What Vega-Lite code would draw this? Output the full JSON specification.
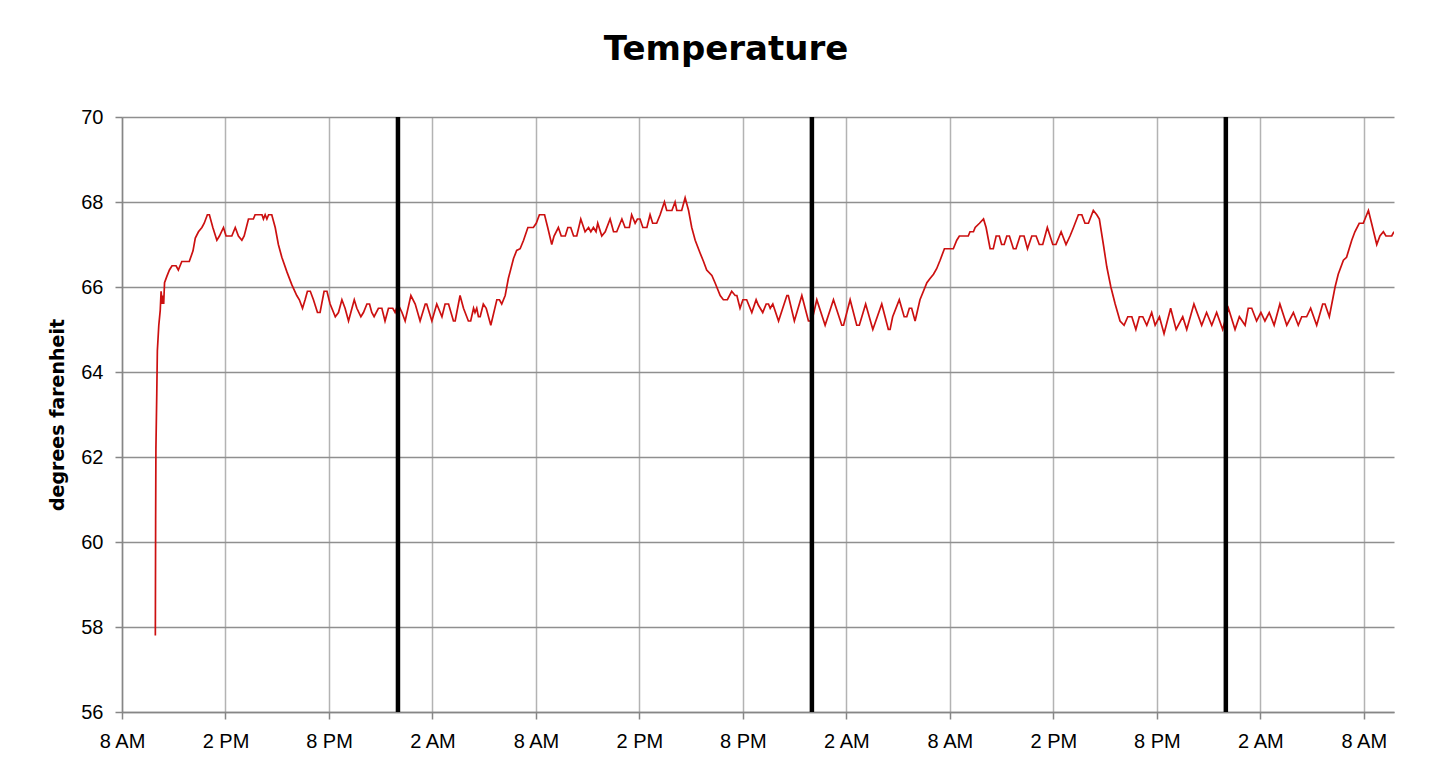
{
  "$schema": "https://vega.github.io/schema/vega-lite/v6.json",
  "width": 1272,
  "height": 595,
  "autosize": {"type": "none"},
  "padding": {"left": 122, "top": 117, "right": 56, "bottom": 55},
  "background": "white",
  "title": {
    "text": "Temperature",
    "font": "DejaVu Sans",
    "fontSize": 34,
    "fontWeight": "bold",
    "color": "#000000",
    "frame": "group",
    "anchor": "middle",
    "baseline": "alphabetic",
    "offset": 13,
    "dx": -32
  },
  "config": {
    "view": {"stroke": null},
    "axis": {
      "labelFont": "Liberation Sans",
      "labelFontSize": 20,
      "labelColor": "#000000",
      "titleFont": "DejaVu Sans",
      "titleFontSize": 19,
      "titleFontWeight": "bold",
      "titleColor": "#000000",
      "domainColor": "#868686",
      "domainWidth": 1.5,
      "tickColor": "#868686",
      "tickWidth": 1.5,
      "tickSize": 7
    }
  },
  "datasets": {
    "temps": [
      {"t":"2012-01-10T09:56","v":57.8},{"t":"2012-01-10T09:57","v":60.5},{"t":"2012-01-10T09:58","v":62.2},{"t":"2012-01-10T10:01","v":63.5},{"t":"2012-01-10T10:03","v":64.5},{"t":"2012-01-10T10:08","v":65.1},{"t":"2012-01-10T10:13","v":65.45},{"t":"2012-01-10T10:16","v":65.9},{"t":"2012-01-10T10:20","v":65.6},{"t":"2012-01-10T10:23","v":65.8},{"t":"2012-01-10T10:25","v":65.6},{"t":"2012-01-10T10:28","v":66.1},{"t":"2012-01-10T10:36","v":66.25},{"t":"2012-01-10T10:45","v":66.4},{"t":"2012-01-10T10:54","v":66.5},{"t":"2012-01-10T11:08","v":66.5},{"t":"2012-01-10T11:16","v":66.4},{"t":"2012-01-10T11:28","v":66.6},{"t":"2012-01-10T11:54","v":66.6},{"t":"2012-01-10T12:07","v":66.85},{"t":"2012-01-10T12:15","v":67.15},{"t":"2012-01-10T12:26","v":67.3},{"t":"2012-01-10T12:38","v":67.4},{"t":"2012-01-10T12:46","v":67.5},{"t":"2012-01-10T12:57","v":67.7},{"t":"2012-01-10T13:04","v":67.7},{"t":"2012-01-10T13:16","v":67.4},{"t":"2012-01-10T13:30","v":67.1},{"t":"2012-01-10T13:39","v":67.2},{"t":"2012-01-10T13:53","v":67.4},{"t":"2012-01-10T14:02","v":67.2},{"t":"2012-01-10T14:22","v":67.2},{"t":"2012-01-10T14:34","v":67.4},{"t":"2012-01-10T14:45","v":67.2},{"t":"2012-01-10T14:57","v":67.1},{"t":"2012-01-10T15:05","v":67.2},{"t":"2012-01-10T15:20","v":67.6},{"t":"2012-01-10T15:37","v":67.6},{"t":"2012-01-10T15:43","v":67.7},{"t":"2012-01-10T16:07","v":67.7},{"t":"2012-01-10T16:12","v":67.6},{"t":"2012-01-10T16:18","v":67.7},{"t":"2012-01-10T16:24","v":67.6},{"t":"2012-01-10T16:30","v":67.7},{"t":"2012-01-10T16:41","v":67.7},{"t":"2012-01-10T16:53","v":67.4},{"t":"2012-01-10T17:04","v":67.0},{"t":"2012-01-10T17:16","v":66.7},{"t":"2012-01-10T17:34","v":66.35},{"t":"2012-01-10T17:51","v":66.05},{"t":"2012-01-10T18:08","v":65.8},{"t":"2012-01-10T18:17","v":65.7},{"t":"2012-01-10T18:28","v":65.5},{"t":"2012-01-10T18:37","v":65.7},{"t":"2012-01-10T18:45","v":65.9},{"t":"2012-01-10T18:55","v":65.9},{"t":"2012-01-10T19:06","v":65.7},{"t":"2012-01-10T19:20","v":65.4},{"t":"2012-01-10T19:29","v":65.4},{"t":"2012-01-10T19:43","v":65.9},{"t":"2012-01-10T19:53","v":65.9},{"t":"2012-01-10T20:04","v":65.6},{"t":"2012-01-10T20:22","v":65.3},{"t":"2012-01-10T20:33","v":65.4},{"t":"2012-01-10T20:45","v":65.7},{"t":"2012-01-10T20:56","v":65.5},{"t":"2012-01-10T21:08","v":65.2},{"t":"2012-01-10T21:16","v":65.4},{"t":"2012-01-10T21:28","v":65.7},{"t":"2012-01-10T21:37","v":65.5},{"t":"2012-01-10T21:51","v":65.3},{"t":"2012-01-10T22:00","v":65.4},{"t":"2012-01-10T22:12","v":65.6},{"t":"2012-01-10T22:21","v":65.6},{"t":"2012-01-10T22:29","v":65.4},{"t":"2012-01-10T22:37","v":65.3},{"t":"2012-01-10T22:52","v":65.5},{"t":"2012-01-10T23:04","v":65.5},{"t":"2012-01-10T23:15","v":65.2},{"t":"2012-01-10T23:27","v":65.5},{"t":"2012-01-10T23:42","v":65.5},{"t":"2012-01-10T23:50","v":65.4},
      {"t":"2012-01-11T00:00","v":65.6},{"t":"2012-01-11T00:14","v":65.4},{"t":"2012-01-11T00:25","v":65.2},{"t":"2012-01-11T00:45","v":65.8},{"t":"2012-01-11T01:00","v":65.6},{"t":"2012-01-11T01:17","v":65.2},{"t":"2012-01-11T01:35","v":65.6},{"t":"2012-01-11T01:40","v":65.6},{"t":"2012-01-11T01:58","v":65.2},{"t":"2012-01-11T02:15","v":65.6},{"t":"2012-01-11T02:33","v":65.3},{"t":"2012-01-11T02:44","v":65.6},{"t":"2012-01-11T02:56","v":65.6},{"t":"2012-01-11T03:13","v":65.2},{"t":"2012-01-11T03:19","v":65.2},{"t":"2012-01-11T03:36","v":65.8},{"t":"2012-01-11T03:48","v":65.5},{"t":"2012-01-11T04:05","v":65.2},{"t":"2012-01-11T04:13","v":65.2},{"t":"2012-01-11T04:23","v":65.5},{"t":"2012-01-11T04:28","v":65.4},{"t":"2012-01-11T04:34","v":65.5},{"t":"2012-01-11T04:40","v":65.3},{"t":"2012-01-11T04:46","v":65.3},{"t":"2012-01-11T04:57","v":65.6},{"t":"2012-01-11T05:07","v":65.5},{"t":"2012-01-11T05:23","v":65.1},{"t":"2012-01-11T05:44","v":65.7},{"t":"2012-01-11T05:53","v":65.7},{"t":"2012-01-11T06:01","v":65.6},{"t":"2012-01-11T06:13","v":65.8},{"t":"2012-01-11T06:24","v":66.2},{"t":"2012-01-11T06:42","v":66.67},{"t":"2012-01-11T06:53","v":66.86},{"t":"2012-01-11T07:05","v":66.9},{"t":"2012-01-11T07:17","v":67.1},{"t":"2012-01-11T07:32","v":67.4},{"t":"2012-01-11T07:51","v":67.4},{"t":"2012-01-11T08:01","v":67.5},{"t":"2012-01-11T08:12","v":67.7},{"t":"2012-01-11T08:30","v":67.7},{"t":"2012-01-11T08:41","v":67.4},{"t":"2012-01-11T08:55","v":67.0},{"t":"2012-01-11T09:03","v":67.2},{"t":"2012-01-11T09:18","v":67.4},{"t":"2012-01-11T09:28","v":67.2},{"t":"2012-01-11T09:42","v":67.2},{"t":"2012-01-11T09:51","v":67.4},{"t":"2012-01-11T10:01","v":67.4},{"t":"2012-01-11T10:11","v":67.2},{"t":"2012-01-11T10:22","v":67.2},{"t":"2012-01-11T10:36","v":67.6},{"t":"2012-01-11T10:51","v":67.3},{"t":"2012-01-11T11:03","v":67.4},{"t":"2012-01-11T11:11","v":67.3},{"t":"2012-01-11T11:20","v":67.4},{"t":"2012-01-11T11:29","v":67.3},{"t":"2012-01-11T11:35","v":67.5},{"t":"2012-01-11T11:49","v":67.2},{"t":"2012-01-11T12:01","v":67.3},{"t":"2012-01-11T12:18","v":67.6},{"t":"2012-01-11T12:30","v":67.3},{"t":"2012-01-11T12:41","v":67.3},{"t":"2012-01-11T12:59","v":67.6},{"t":"2012-01-11T13:10","v":67.4},{"t":"2012-01-11T13:25","v":67.4},{"t":"2012-01-11T13:33","v":67.7},{"t":"2012-01-11T13:45","v":67.5},{"t":"2012-01-11T13:53","v":67.6},{"t":"2012-01-11T14:02","v":67.6},{"t":"2012-01-11T14:12","v":67.4},{"t":"2012-01-11T14:26","v":67.4},{"t":"2012-01-11T14:37","v":67.7},{"t":"2012-01-11T14:46","v":67.5},{"t":"2012-01-11T15:00","v":67.5},{"t":"2012-01-11T15:12","v":67.7},{"t":"2012-01-11T15:27","v":68.0},{"t":"2012-01-11T15:35","v":67.8},{"t":"2012-01-11T15:53","v":67.8},{"t":"2012-01-11T16:04","v":68.0},{"t":"2012-01-11T16:10","v":67.8},{"t":"2012-01-11T16:27","v":67.8},{"t":"2012-01-11T16:39","v":68.1},{"t":"2012-01-11T16:51","v":67.8},{"t":"2012-01-11T17:02","v":67.4},{"t":"2012-01-11T17:14","v":67.1},{"t":"2012-01-11T17:31","v":66.8},{"t":"2012-01-11T17:43","v":66.6},{"t":"2012-01-11T17:54","v":66.4},{"t":"2012-01-11T18:12","v":66.27},{"t":"2012-01-11T18:23","v":66.1},{"t":"2012-01-11T18:41","v":65.8},{"t":"2012-01-11T18:52","v":65.7},{"t":"2012-01-11T19:06","v":65.7},{"t":"2012-01-11T19:21","v":65.9},{"t":"2012-01-11T19:33","v":65.8},{"t":"2012-01-11T19:39","v":65.8},{"t":"2012-01-11T19:50","v":65.5},{"t":"2012-01-11T20:00","v":65.7},{"t":"2012-01-11T20:13","v":65.7},{"t":"2012-01-11T20:31","v":65.4},{"t":"2012-01-11T20:46","v":65.7},{"t":"2012-01-11T20:54","v":65.57},{"t":"2012-01-11T21:09","v":65.4},{"t":"2012-01-11T21:21","v":65.6},{"t":"2012-01-11T21:29","v":65.6},{"t":"2012-01-11T21:35","v":65.5},{"t":"2012-01-11T21:44","v":65.6},{"t":"2012-01-11T21:49","v":65.5},{"t":"2012-01-11T22:04","v":65.2},{"t":"2012-01-11T22:33","v":65.8},{"t":"2012-01-11T22:38","v":65.8},{"t":"2012-01-11T22:59","v":65.2},{"t":"2012-01-11T23:25","v":65.8},{"t":"2012-01-11T23:48","v":65.2},
      {"t":"2012-01-12T00:00","v":65.2},{"t":"2012-01-12T00:17","v":65.7},{"t":"2012-01-12T00:46","v":65.1},{"t":"2012-01-12T01:15","v":65.7},{"t":"2012-01-12T01:44","v":65.1},{"t":"2012-01-12T01:50","v":65.1},{"t":"2012-01-12T02:13","v":65.7},{"t":"2012-01-12T02:36","v":65.1},{"t":"2012-01-12T02:45","v":65.1},{"t":"2012-01-12T03:07","v":65.6},{"t":"2012-01-12T03:32","v":65.0},{"t":"2012-01-12T04:03","v":65.6},{"t":"2012-01-12T04:26","v":65.0},{"t":"2012-01-12T04:32","v":65.0},{"t":"2012-01-12T04:41","v":65.3},{"t":"2012-01-12T05:04","v":65.7},{"t":"2012-01-12T05:21","v":65.3},{"t":"2012-01-12T05:30","v":65.3},{"t":"2012-01-12T05:39","v":65.5},{"t":"2012-01-12T05:47","v":65.5},{"t":"2012-01-12T05:59","v":65.2},{"t":"2012-01-12T06:16","v":65.7},{"t":"2012-01-12T06:40","v":66.1},{"t":"2012-01-12T06:51","v":66.2},{"t":"2012-01-12T07:03","v":66.3},{"t":"2012-01-12T07:14","v":66.43},{"t":"2012-01-12T07:26","v":66.63},{"t":"2012-01-12T07:41","v":66.9},{"t":"2012-01-12T08:12","v":66.9},{"t":"2012-01-12T08:24","v":67.1},{"t":"2012-01-12T08:33","v":67.2},{"t":"2012-01-12T09:04","v":67.2},{"t":"2012-01-12T09:10","v":67.3},{"t":"2012-01-12T09:22","v":67.3},{"t":"2012-01-12T09:28","v":67.4},{"t":"2012-01-12T09:43","v":67.5},{"t":"2012-01-12T09:57","v":67.6},{"t":"2012-01-12T10:06","v":67.4},{"t":"2012-01-12T10:20","v":66.9},{"t":"2012-01-12T10:31","v":66.9},{"t":"2012-01-12T10:41","v":67.2},{"t":"2012-01-12T10:52","v":67.2},{"t":"2012-01-12T11:00","v":67.0},{"t":"2012-01-12T11:09","v":67.0},{"t":"2012-01-12T11:18","v":67.2},{"t":"2012-01-12T11:27","v":67.2},{"t":"2012-01-12T11:41","v":66.9},{"t":"2012-01-12T11:50","v":66.9},{"t":"2012-01-12T12:04","v":67.2},{"t":"2012-01-12T12:18","v":67.2},{"t":"2012-01-12T12:30","v":66.9},{"t":"2012-01-12T12:45","v":67.2},{"t":"2012-01-12T13:00","v":67.2},{"t":"2012-01-12T13:11","v":67.0},{"t":"2012-01-12T13:23","v":67.0},{"t":"2012-01-12T13:39","v":67.4},{"t":"2012-01-12T13:58","v":67.0},{"t":"2012-01-12T14:09","v":67.0},{"t":"2012-01-12T14:27","v":67.3},{"t":"2012-01-12T14:44","v":67.0},{"t":"2012-01-12T14:58","v":67.2},{"t":"2012-01-12T15:10","v":67.4},{"t":"2012-01-12T15:27","v":67.7},{"t":"2012-01-12T15:39","v":67.7},{"t":"2012-01-12T15:50","v":67.5},{"t":"2012-01-12T16:02","v":67.5},{"t":"2012-01-12T16:19","v":67.8},{"t":"2012-01-12T16:31","v":67.7},{"t":"2012-01-12T16:40","v":67.6},{"t":"2012-01-12T16:54","v":67.0},{"t":"2012-01-12T17:06","v":66.47},{"t":"2012-01-12T17:20","v":66.0},{"t":"2012-01-12T17:35","v":65.6},{"t":"2012-01-12T17:52","v":65.2},{"t":"2012-01-12T18:06","v":65.1},{"t":"2012-01-12T18:19","v":65.3},{"t":"2012-01-12T18:33","v":65.3},{"t":"2012-01-12T18:47","v":65.0},{"t":"2012-01-12T18:59","v":65.3},{"t":"2012-01-12T19:11","v":65.3},{"t":"2012-01-12T19:25","v":65.1},{"t":"2012-01-12T19:42","v":65.4},{"t":"2012-01-12T19:54","v":65.1},{"t":"2012-01-12T20:09","v":65.3},{"t":"2012-01-12T20:25","v":64.9},{"t":"2012-01-12T20:48","v":65.5},{"t":"2012-01-12T21:07","v":65.0},{"t":"2012-01-12T21:30","v":65.3},{"t":"2012-01-12T21:44","v":65.0},{"t":"2012-01-12T22:09","v":65.6},{"t":"2012-01-12T22:36","v":65.1},{"t":"2012-01-12T22:53","v":65.4},{"t":"2012-01-12T23:11","v":65.1},{"t":"2012-01-12T23:28","v":65.4},{"t":"2012-01-12T23:49","v":65.0},
      {"t":"2012-01-13T00:09","v":65.5},{"t":"2012-01-13T00:32","v":65.0},{"t":"2012-01-13T00:47","v":65.3},{"t":"2012-01-13T01:07","v":65.1},{"t":"2012-01-13T01:18","v":65.5},{"t":"2012-01-13T01:30","v":65.5},{"t":"2012-01-13T01:47","v":65.2},{"t":"2012-01-13T02:02","v":65.4},{"t":"2012-01-13T02:16","v":65.2},{"t":"2012-01-13T02:31","v":65.4},{"t":"2012-01-13T02:48","v":65.1},{"t":"2012-01-13T03:08","v":65.6},{"t":"2012-01-13T03:32","v":65.1},{"t":"2012-01-13T03:55","v":65.4},{"t":"2012-01-13T04:12","v":65.1},{"t":"2012-01-13T04:24","v":65.3},{"t":"2012-01-13T04:41","v":65.3},{"t":"2012-01-13T04:55","v":65.5},{"t":"2012-01-13T05:16","v":65.1},{"t":"2012-01-13T05:37","v":65.6},{"t":"2012-01-13T05:45","v":65.6},{"t":"2012-01-13T06:00","v":65.3},{"t":"2012-01-13T06:20","v":66.0},{"t":"2012-01-13T06:31","v":66.3},{"t":"2012-01-13T06:49","v":66.63},{"t":"2012-01-13T07:00","v":66.7},{"t":"2012-01-13T07:18","v":67.1},{"t":"2012-01-13T07:29","v":67.3},{"t":"2012-01-13T07:44","v":67.5},{"t":"2012-01-13T07:58","v":67.5},{"t":"2012-01-13T08:16","v":67.8},{"t":"2012-01-13T08:27","v":67.5},{"t":"2012-01-13T08:45","v":67.0},{"t":"2012-01-13T08:56","v":67.2},{"t":"2012-01-13T09:08","v":67.3},{"t":"2012-01-13T09:17","v":67.2},{"t":"2012-01-13T09:37","v":67.2},{"t":"2012-01-13T09:45","v":67.3}
    ],
    "midnights": [
      {"t":"2012-01-11T00:00"},{"t":"2012-01-12T00:00"},{"t":"2012-01-13T00:00"}
    ]
  },
  "layer": [
    {
      "data": {"name": "temps"},
      "mark": {"type": "line", "color": "#cc1010", "strokeWidth": 1.7, "clip": true},
      "encoding": {
        "x": {
          "field": "t",
          "type": "temporal",
          "title": null,
          "scale": {
            "domain": [
              {"year": 2012, "month": 1, "date": 10, "hours": 8, "minutes": 0},
              {"year": 2012, "month": 1, "date": 13, "hours": 9, "minutes": 45}
            ],
            "nice": false
          },
          "axis": {
            "values": [
              {"year": 2012, "month": 1, "date": 10, "hours": 8},
              {"year": 2012, "month": 1, "date": 10, "hours": 14},
              {"year": 2012, "month": 1, "date": 10, "hours": 20},
              {"year": 2012, "month": 1, "date": 11, "hours": 2},
              {"year": 2012, "month": 1, "date": 11, "hours": 8},
              {"year": 2012, "month": 1, "date": 11, "hours": 14},
              {"year": 2012, "month": 1, "date": 11, "hours": 20},
              {"year": 2012, "month": 1, "date": 12, "hours": 2},
              {"year": 2012, "month": 1, "date": 12, "hours": 8},
              {"year": 2012, "month": 1, "date": 12, "hours": 14},
              {"year": 2012, "month": 1, "date": 12, "hours": 20},
              {"year": 2012, "month": 1, "date": 13, "hours": 2},
              {"year": 2012, "month": 1, "date": 13, "hours": 8}
            ],
            "format": "%-I %p",
            "grid": true,
            "gridColor": "#b3b3b3",
            "gridWidth": 1.5,
            "labelPadding": 12,
            "labelFlush": false,
            "labelOverlap": false
          }
        },
        "y": {
          "field": "v",
          "type": "quantitative",
          "title": "degrees farenheit",
          "scale": {"domain": [56, 70], "nice": false, "zero": false},
          "axis": {
            "values": [56, 58, 60, 62, 64, 66, 68, 70],
            "grid": true,
            "gridColor": "#8f8f8f",
            "gridWidth": 1.5,
            "labelPadding": 12,
            "titlePadding": 13
          }
        }
      }
    },
    {
      "data": {"name": "midnights"},
      "mark": {"type": "rule", "color": "#000000", "strokeWidth": 4.5},
      "encoding": {
        "x": {"field": "t", "type": "temporal"}
      }
    }
  ]
}
